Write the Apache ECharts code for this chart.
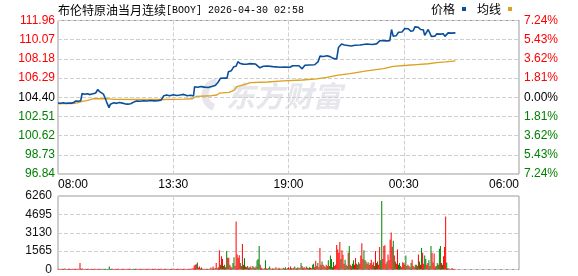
<!DOCTYPE html>
<html><head><meta charset="utf-8">
<script src="https://cdn.jsdelivr.net/npm/echarts@6/dist/echarts.min.js"></script>
<style>html,body{margin:0;padding:0;background:#fff}#c{width:578px;height:276px}</style>
</head><body><div id="c"></div>
<script>
const titleName = '布伦特原油当月连续';
const titleInfo = '[BOOY] 2026-04-30 02:58';
const legendNames = ['价格', '均线'];
const prevClose = 104.40;

const priceTimes = ['08:00','08:08','08:15','08:22','08:30','08:38','08:45','08:51','08:58','09:05','09:09','09:16','09:24','09:32','09:40','09:48','09:54','09:59','10:04','10:10','10:14','10:19','10:23','10:26','10:30','10:35','10:40','10:48','10:56','11:04','11:12','11:20','11:28','11:37','11:45','11:55','12:05','12:15','12:25','12:35','12:45','12:55','13:03','13:11','13:20','13:30','13:40','13:50','14:00','14:10','14:20','14:28','14:31','14:40','14:50','15:00','15:10','15:20','15:30','15:38','15:45','15:55','16:04','16:08','16:16','16:23','16:30','16:35','16:42','16:50','17:00','17:10','17:25','17:38','17:48','18:00','18:15','18:36','18:50','19:04','19:12','19:30','19:39','19:47','20:00','20:15','20:25','20:30','20:40','20:50','20:59','21:10','21:18','21:23','21:32','21:40','21:50','22:00','22:10','22:25','22:30','22:44','23:00','23:12','23:22','23:30','23:41','23:50','23:55','00:00','00:08','00:15','00:25','00:33','00:43','00:50','00:57','01:02','01:11','01:18','01:26','01:30','01:35','01:40','01:45','01:49','01:59','02:04','02:15','02:23','02:28','02:32','02:37','02:47','02:58'];
const priceValues = [103.83,103.80,103.86,103.80,103.84,103.82,103.88,104.03,104.00,104.05,104.77,104.70,104.74,104.66,104.75,104.82,105.17,104.95,104.78,104.70,104.40,103.95,103.62,103.37,103.72,103.62,103.85,103.80,103.88,103.82,103.75,103.72,103.76,103.92,104.02,104.00,104.05,104.03,104.08,104.04,104.06,104.12,104.55,104.62,104.55,104.65,104.58,104.62,104.68,104.55,104.60,104.52,105.43,105.38,105.45,105.40,105.36,105.45,105.55,105.85,106.26,106.30,106.28,106.92,107.00,107.40,107.45,107.90,107.72,107.66,107.65,107.71,107.68,107.30,107.45,107.48,107.42,107.35,107.38,107.35,107.50,107.50,107.20,107.55,107.58,107.60,107.91,108.45,108.42,108.48,108.40,108.20,108.18,109.30,109.64,109.55,109.50,109.45,109.52,109.55,109.40,109.64,109.60,109.66,109.97,109.98,109.95,109.97,111.07,110.40,110.45,110.80,110.83,111.17,111.15,110.90,110.95,111.33,111.30,111.07,111.05,110.50,110.55,111.07,111.05,110.40,110.42,110.64,110.62,110.66,110.40,110.45,110.74,110.72,110.74];

const avgTimes = ['08:00','08:40','08:55','09:10','09:25','09:40','10:20','10:40','12:10','13:00','13:30','14:00','14:25','14:35','15:20','15:35','15:42','16:10','16:25','16:32','16:58','17:10','18:00','18:45','19:40','20:21','20:50','21:18','21:56','22:44','23:32','00:00','00:40','01:07','01:40','02:04','02:30','02:58'];
const avgValues = [103.77,103.78,103.85,104.00,104.10,104.25,104.27,104.20,104.18,104.18,104.20,104.22,104.25,104.48,104.55,104.62,104.80,104.88,105.10,105.45,105.70,105.85,105.90,106.02,106.10,106.22,106.35,106.55,106.72,106.99,107.22,107.45,107.55,107.62,107.70,107.81,107.88,107.98];

// volume: one bar per 3-minute slot starting 08:00
const volSlotMinutes = 3;
const volumes = [
60,50,70,40,60,50,80,60,40,50,60,70,50,40,60,50,60,70,50,60,
60,550,70,115,50,40,60,50,70,60,40,50,60,50,40,60,70,50,40,60,
50,60,40,70,50,60,50,40,60,260,50,60,70,50,40,60,50,70,60,50,
40,60,50,70,50,40,60,50,60,70,50,40,60,50,70,60,50,40,60,50,
60,50,70,40,60,50,60,70,50,40,60,50,60,70,40,50,60,50,70,60,
50,40,60,70,50,60,40,50,70,60,50,60,40,50,60,70,50,60,40,50,
60,70,50,40,60,50,60,70,80,100,
350,400,450,600,150,260,80,170,60,50,60,50,70,60,50,80,170,60,260,80,
120,550,100,200,1650,400,1130,900,300,400,200,1570,1000,1000,400,260,150,550,1040,300,
4090,1280,990,1220,550,300,2175,400,960,250,200,300,150,200,250,100,300,200,150,250,
780,900,2000,400,150,80,60,100,780,80,60,100,260,80,60,100,60,80,200,60,
80,150,60,80,60,150,80,200,60,100,200,80,260,100,80,150,260,80,120,200,
100,150,550,300,150,200,100,260,150,100,200,150,100,400,490,200,750,300,550,200,
1830,400,690,400,300,200,400,300,780,300,1190,900,200,640,300,400,2090,1710,1420,2350,
900,1650,1250,500,840,400,300,1420,2000,400,300,500,780,400,990,500,400,610,500,1190,
2230,900,1650,800,690,500,610,400,550,840,400,610,300,1570,550,690,400,1910,780,5830,
900,2000,2060,500,690,1280,800,2550,3160,1940,2440,1190,690,500,1710,400,550,300,200,610,
550,400,1190,300,400,300,200,550,840,300,200,400,400,300,1280,690,400,1830,1420,500,
1190,900,400,550,780,300,2000,1420,600,1360,260,300,550,400,1770,2000,550,400,1130,1910,
4520,600,100,80,60,50,120,50,60,40];
const volDirs = (
'rrrrrrrgrrrrrrrrrrrr'+'rrrrgrrrrrrgrrrrrrrr'+'rrggggggggggrrrrrrrr'+'rrrrrrrrrrgggggrrrrr'+
'rrrrrrrrrrrrrrrrrrrr'+'rrrrrgrrrrrrrrrrrrrr'+'rrrrrrrrrr'+
'rrrgrrgrrgrrgrrgrrrg'+'rrgrrgrrggrgrrgrrggr'+'rrrrgrrggrgrrgrrgrgr'+'gggrrrgrgrrggrrgrrrg'+
'rrgrrgrgrgrrrgrrgrrg'+'rrgrgrrgrrgrrggrrrgr'+'rrgrrgrrgrggrgrrrrrr'+'grrrgrgrgrrggrrgrgrr'+
'rrggrrgrrrgrgrrgrrgg'+'rrrrgrrrrrgrgrrggrgr'+'rrggrrggrrrgrgrgrgrr'+'ggrrgrgrrrrggrggrgrr'+
'rgrgrrrrrr').split('');

const xTickLabels = ['08:00','13:30','19:00','00:30','06:00'];
const priceTickLabels = ['96.84','98.73','100.62','102.51','104.40','106.29','108.18','110.07','111.96'];
const pctTickLabels = ['7.24%','5.43%','3.62%','1.81%','0.00%','1.81%','3.62%','5.43%','7.24%'];
const volTickLabels = ['0','1565','3130','4695','6260'];
const priceMin = 96.84, priceMax = 111.96;
const volMax = 6260, volInterval = 1565;

const RED = '#ff0000', GREEN = '#008000', BLUE = '#0b4f9c', GOLD = '#dca11f';
const FONT = 'Liberation Sans';

const toMin = s => { const [h, m] = s.split(':').map(Number); return ((h - 8) * 60 + m + 1440) % 1440; };
const pad = n => (n < 10 ? '0' : '') + n;
const slotCats = [];
for (let t = 0; t <= 1320; t += volSlotMinutes) { const m = (t + 480) % 1440; slotCats.push(pad(Math.floor(m / 60)) + ':' + pad(m % 60)); }
const stepColor = v => { v = Number(v); return v > 0 ? RED : (v < 0 ? GREEN : '#000'); };
const dash = { type: 'dashed', color: '#cfcfcf', width: 1 };

const chart = echarts.init(document.getElementById('c'), null, { renderer: 'canvas' });
chart.setOption({
  animation: false,
  textStyle: { fontFamily: FONT },
  grid: [
    { left: 58, right: 59, top: 20.5, height: 153.5, show: true, borderColor: '#9a9a9a', borderWidth: 1 },
    { left: 58, right: 59, top: 196, height: 73.5, show: true, borderColor: '#9a9a9a', borderWidth: 1 }
  ],
  legend: {
    data: [{ name: legendNames[0], icon: 'rect' }, { name: legendNames[1], icon: 'rect' }],
    right: 66, top: 3, padding: 0, align: 'right', itemWidth: 4, itemHeight: 4, itemGap: 11,
    textStyle: { fontFamily: 'Noto Sans CJK SC', fontSize: 12, color: '#000', padding: [0, 2, 0, 0] }
  },
  graphic: [
    { type: 'text', x: 58, y: 10, z: 10, style: {
      text: '{a|' + titleName + '}{b|' + titleInfo + '}', verticalAlign: 'middle',
      rich: { a: { fontFamily: 'Noto Sans CJK SC', fontSize: 12, fill: '#000' }, b: { fontFamily: 'Liberation Mono', fontSize: 10, fill: '#000' } } } },
    { type: 'text', x: 226, y: 96, z: 0, silent: true, style: {
      text: '东方财富', fontFamily: 'Noto Sans CJK SC', fontSize: 29, fontWeight: 'bold', fontStyle: 'italic',
      fill: '#e6e6ec', verticalAlign: 'middle' } },
    { type: 'arc', z: 0, silent: true, shape: { cx: 218, cy: 95, r: 13, startAngle: 1.9, endAngle: 4.6 },
      style: { stroke: '#e6e6ec', lineWidth: 7, fill: null } }
  ],
  xAxis: [
    { type: 'value', gridIndex: 0, min: 0, max: 1320, interval: 330,
      axisLine: { show: false }, axisTick: { show: false },
      axisLabel: { formatter: v => xTickLabels[Math.round(v / 330)], color: '#000', fontSize: 12, margin: 5,
        alignMinLabel: 'left', alignMaxLabel: 'right' },
      splitLine: { show: true, lineStyle: dash } },
    { type: 'category', gridIndex: 1, data: slotCats, boundaryGap: false,
      axisLine: { show: false }, axisTick: { show: false }, axisLabel: { show: false },
      splitLine: { show: true, interval: (i) => i % 110 === 0, lineStyle: dash } }
  ],
  yAxis: [
    { type: 'value', gridIndex: 0, min: priceMin, max: priceMax, show: false, splitLine: { show: false } },
    { type: 'value', gridIndex: 0, min: -4, max: 4, interval: 1, position: 'left',
      axisLine: { show: false }, axisTick: { show: false },
      axisLabel: { formatter: v => priceTickLabels[Math.round(v) + 4], color: stepColor, fontSize: 12, margin: 3 },
      splitLine: { show: true, lineStyle: dash } },
    { type: 'value', gridIndex: 0, min: -4, max: 4, interval: 1, position: 'right',
      axisLine: { show: false }, axisTick: { show: false },
      axisLabel: { formatter: v => pctTickLabels[Math.round(v) + 4], color: stepColor, fontSize: 12, margin: 5 },
      splitLine: { show: false } },
    { type: 'value', gridIndex: 1, min: 0, max: volMax, interval: volInterval,
      axisLine: { show: false }, axisTick: { show: false },
      axisLabel: { formatter: v => volTickLabels[Math.round(v / volInterval)], color: '#111', fontSize: 12, margin: 6 },
      splitLine: { show: true, lineStyle: dash } }
  ],
  series: [
    { name: legendNames[0], type: 'line', xAxisIndex: 0, yAxisIndex: 0, showSymbol: false, z: 5,
      data: priceTimes.map((t, i) => [toMin(t), priceValues[i]]),
      itemStyle: { color: BLUE }, lineStyle: { color: BLUE, width: 1.6 } },
    { name: legendNames[1], type: 'line', xAxisIndex: 0, yAxisIndex: 0, showSymbol: false, z: 4,
      data: avgTimes.map((t, i) => [toMin(t), avgValues[i]]),
      itemStyle: { color: GOLD }, lineStyle: { color: GOLD, width: 1.3 } },
    { type: 'bar', xAxisIndex: 1, yAxisIndex: 3, barWidth: 1, barGap: '0%',
      data: volumes.map((v, i) => ({ value: v, itemStyle: { color: volDirs[i] === 'g' ? GREEN : RED } })) }
  ]
});
</script></body></html>
